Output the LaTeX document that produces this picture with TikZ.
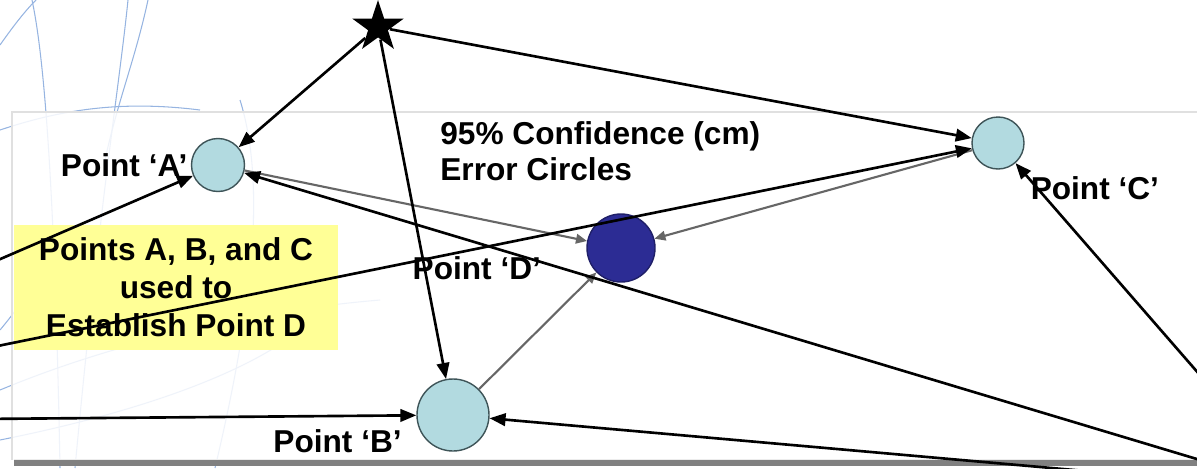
\documentclass[tikz,border=0pt]{standalone}
\usepackage{fontspec}
\setmainfont{Liberation Sans}
\usetikzlibrary{arrows.meta,positioning,shapes.geometric}

\definecolor{errfill}{RGB}{178,218,224}
\definecolor{errdraw}{RGB}{62,84,88}
\definecolor{estfill}{RGB}{44,44,148}
\definecolor{notefill}{RGB}{255,255,150}
\definecolor{swirlblue}{RGB}{150,180,225}

\begin{document}
\begin{tikzpicture}[
  x=0.2mm, y=-0.2mm,
  >={Triangle[length=3.2mm,width=2.5mm]},
  pt/.style={circle, draw=errdraw, line width=0.8pt, fill=errfill, inner sep=0pt},
  lab/.style={font=\fontsize{18}{21.6}\selectfont\bfseries, inner sep=0pt},
  conn/.style={->, line width=1.5pt},
  fix/.style={-{Triangle[length=2.2mm,width=1.9mm]}, draw=black!60, line width=1.2pt},
  swirl/.style={draw=swirlblue, line width=0.6pt}
]
\useasboundingbox (0,0) rectangle (1197,468);
\clip (0,0) rectangle (1197,468);

% slide background
\draw[swirl] (0,45) .. controls (12,28) and (24,12) .. (36,0);
\draw[swirl] (32,0) .. controls (45,60) and (55,200) .. (60,468);
\draw[swirl] (128,0) .. controls (120,80) and (100,200) .. (75,468);
\draw[swirl] (148,0) .. controls (135,60) and (118,100) .. (105,160);
\draw[swirl] (0,130) .. controls (60,110) and (120,100) .. (200,110);
\draw[swirl] (0,330) .. controls (10,318) and (20,305) .. (30,290);
\draw[swirl] (0,390) .. controls (120,340) and (260,310) .. (380,300);
\draw[swirl] (0,440) .. controls (150,410) and (250,370) .. (300,330);
\draw[swirl] (240,100) .. controls (265,180) and (255,300) .. (215,468);

% panel
\fill[black!50] (14,459) rectangle (1197,466);
\fill[white, fill opacity=0.85] (12,112) rectangle (1197,460);
\draw[black!12, line width=1pt] (12,460) -- (12,112) -- (1197,112);

% points
\node[star, star points=5, star point ratio=2.6, fill=black, inner sep=0pt, minimum size=10.8mm] (S) at (378,27) {};
\node[pt, minimum size=10.6mm] (A) at (218,165) {};
\node[pt, minimum size=10.4mm] (C) at (998,143) {};
\node[pt, fill=estfill, draw=estfill!70!black, minimum size=13.6mm] (D) at (621,248) {};
\node[pt, minimum size=14.4mm] (B) at (453,415) {};

\node[lab, left=0.6mm of A] (la) {Point `A'};
\node[lab, below right=2.9mm and 2.7mm of C] (lc) {Point `C'};
\node[lab, left=9mm of D, yshift=-4mm] (ld) {Point `D'};
\node[lab, left=5mm of B.south west] (lb) {Point `B'};

\node[lab, fill=notefill, minimum width=64.6mm, minimum height=25mm, align=center] (N) at (176,287)
  {Points A, B, and C\\used to\\Establish Point D};
\node[lab, anchor=north west, align=left, font=\fontsize{18}{20.5}\selectfont\bfseries] (T) at (440,121)
  {95\% Confidence (cm)\\Error Circles};

% far stations
\coordinate (W) at (-377,422);
\coordinate (E) at (1300,490);

\draw[fix] (A) -- (D);
\draw[fix] (B) -- (D);
\draw[fix] (C) -- (D);

\draw[conn] (S) -- (A);
\draw[conn] (S) -- (B);
\draw[conn] (S) -- (C);
\draw[conn] (W) -- (A);
\draw[conn] (W) -- (B);
\draw[conn] (W) -- (C);
\draw[conn] (E) -- (A);
\draw[conn] (E) -- (B);
\draw[conn] (E) -- (C);
\end{tikzpicture}
\end{document}
